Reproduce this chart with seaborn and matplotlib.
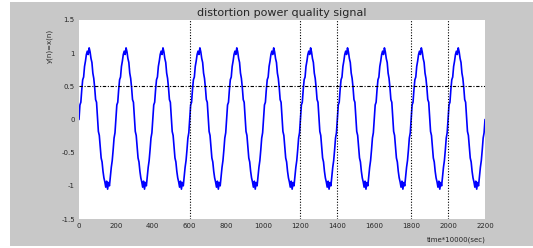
import numpy as np
import pandas as pd
import matplotlib
matplotlib.use("Agg")
import matplotlib.pyplot as plt
import seaborn as sns
from matplotlib.patches import Rectangle

# one cycle of the distorted waveform (every 5 samples)
cycle_values = [0.00, 0.22, 0.26, 0.45, 0.60, 0.64, 0.80, 0.88, 0.98, 1.03,
                0.98, 1.08, 1.02, 0.92, 0.86, 0.70, 0.62, 0.48, 0.30, 0.26,
                0.05, -0.18, -0.24, -0.42, -0.58, -0.64, -0.78, -0.88, -0.94, -1.02,
                -0.93, -1.05, -0.95, -1.00, -0.86, -0.72, -0.62, -0.46, -0.28, -0.20]
sample_step = 5
n_cycles = 11
marker_x = [600, 1200, 1400, 1800, 2000]
marker_y = 0.5
x_ticks = [0, 200, 400, 600, 800, 1000, 1200, 1400, 1600, 1800, 2000, 2200]
y_ticks = [-1.5, -1, -0.5, 0, 0.5, 1, 1.5]

signal = list(np.tile(cycle_values, n_cycles)) + [cycle_values[0]]
samples = np.arange(len(signal)) * sample_step
df = pd.DataFrame({"sample": samples, "value": signal})

sns.set_style("white")
plt.rcParams['font.family'] = ['DejaVu Sans']

fig = plt.figure(figsize=(5.33, 2.48), dpi=100)
fig.patch.set_facecolor("white")
# grey MATLAB-like figure panel behind the axes
fig.add_artist(Rectangle((10 / 533, 2 / 248), 523 / 533, 244 / 248,
                         transform=fig.transFigure, facecolor="#c8c8c8",
                         edgecolor="none", zorder=-10))

ax = fig.add_axes([79 / 533, 29 / 248, 406 / 533, 199 / 248])
ax.set_facecolor("white")

sns.lineplot(data=df, x="sample", y="value", ax=ax, color="#0000ff", linewidth=1.2)

for xv in marker_x:
    ax.axvline(xv, color="black", linestyle=(0, (1, 1.5)), linewidth=0.8)
ax.axhline(marker_y, color="black", linestyle=(0, (3, 1.5, 1, 1.5)), linewidth=0.8)

ax.set_xlim(0, 2200)
ax.set_ylim(-1.5, 1.5)
ax.set_xticks(x_ticks)
ax.set_yticks(y_ticks)
ax.set_xticklabels([str(t) for t in x_ticks])
ax.set_yticklabels([f"{t:g}" for t in y_ticks])
ax.tick_params(length=0, labelsize=5, pad=3)
for s in ax.spines.values():
    s.set_visible(False)

ax.set_title("distortion power quality signal", fontsize=8, pad=3)
ax.set_xlabel("time*10000(sec)", fontsize=5)
ax.xaxis.set_label_coords(0.93, -0.09)
ax.set_ylabel("y(n)=x(n)", fontsize=5)
ax.yaxis.set_label_coords(-0.065, 0.87)

fig.savefig("out.png", dpi=100)
